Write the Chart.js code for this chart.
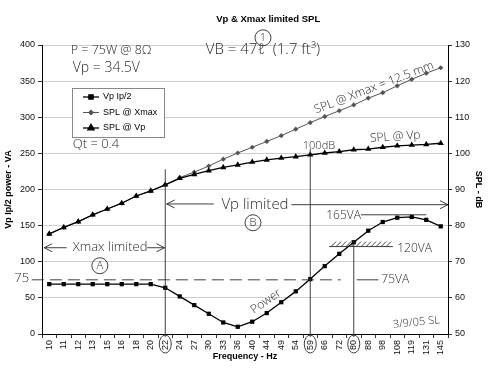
<!DOCTYPE html>
<html><head><meta charset="utf-8">
<script src="https://cdn.jsdelivr.net/npm/chart.js@4"></script>
<style>html,body{margin:0;padding:0;background:#fff}#wrap{width:488px;height:376px}</style>
</head><body><div id="wrap"><canvas id="c" width="488" height="376"></canvas></div>
<script>
// ---- data ----
const chartTitle = 'Vp & Xmax limited SPL';
const categories = ['10','11','12','13','15','16','18','20','22','24','27','30','33','36','40','44','49','54','59','66','72','80','88','98','108','119','131','145'];
const vpPower  = [69,69,69,69,69,69,69,69,64,52,40,28,16,10,17,29,44,59,76,94,111,127,143,155,161,162,158,149];
const splXmax  = [77.7,79.5,81.1,83.0,84.6,86.2,88.2,89.6,91.3,93.3,94.8,96.5,98.4,100.1,101.7,103.3,104.9,106.7,108.5,110.2,111.8,113.4,115.3,116.8,118.7,120.5,122.2,123.7];
const splVp    = [77.7,79.5,81.1,83.0,84.6,86.2,88.2,89.6,91.3,93.1,94.2,95.2,96.1,96.8,97.6,98.2,98.7,99.1,99.6,100.1,100.5,101.0,101.2,101.7,102.1,102.3,102.5,102.8];
const seriesNames = ['Vp Ip/2','SPL @ Xmax','SPL @ Vp'];
const leftTitle = 'Vp Ip/2 power - VA';
const rightTitle = 'SPL - dB';
const xTitle = 'Frequency - Hz';

// handwritten notes (category index, left-axis VA value)
const notes = [
  {t:'P = 75W @ 8Ω', i:1.48, v:392, size:12.5, align:'left'},
  {t:'Vp = 34.5V', i:1.62, v:368, size:14, align:'left'},
  {t:'VB = 47ℓ  (1.7 ft³)', i:10.8, v:393, size:15, align:'left'},
  {t:'Qt = 0.4', i:1.62, v:262, size:13, align:'left'},
  {t:'SPL @ Xmax = 12.5 mm', i:22.4, v:341, size:12, align:'center', rot:-21},
  {t:'SPL @ Vp', i:23.86, v:273, size:12, align:'center', rot:-4},
  {t:'100dB', i:18.6, v:260, size:11, align:'center'},
  {t:'Vp limited', i:14.19, v:179, size:15, align:'center'},
  {t:'Xmax limited', i:1.62, v:119.4, size:13, align:'left'},
  {t:'75', i:-1.9, v:77, size:13, align:'center'},
  {t:'75VA', i:22.9, v:75, size:12, align:'left'},
  {t:'165VA', i:19.1, v:164, size:12, align:'left'},
  {t:'120VA', i:24.0, v:118, size:12, align:'left'},
  {t:'Power', i:14.95, v:45, size:12, align:'center', rot:-35},
  {t:'3/9/05 SL', i:25.31, v:16, size:11, align:'center', rot:-6}
];
const circled = [
  {t:'1', i:14.74, v:410, r:8},
  {t:'B', i:14.05, v:154, r:8},
  {t:'A', i:3.49, v:94.5, r:8}
];
const arrows = [
  {i1:1.2, i2:-0.35, v:119.4},
  {i1:6.75, i2:7.95, v:119.4},
  {i1:11.35, i2:8.1, v:180},
  {i1:16.7, i2:27.5, v:179}
];
const vlines = [{i:8, v:228},{i:18, v:256},{i:21, v:130}];

const HAND = "'Open Sans','DejaVu Sans',sans-serif";
const GRID = '#c9c9e6';

const overlay = {
  id:'overlay',
  afterDatasetsDraw(chart){
    const ctx = chart.ctx, ca = chart.chartArea;
    const lx = ca.left + 30, ly = ca.top + 43, lw = 92, lh = 49;
    ctx.save();
    ctx.fillStyle = '#fff'; ctx.fillRect(lx, ly, lw, lh);
    ctx.strokeStyle = '#888'; ctx.lineWidth = 1; ctx.strokeRect(lx+0.5, ly+0.5, lw, lh);
    ctx.font = '9px Arial'; ctx.textBaseline = 'middle'; ctx.textAlign = 'left';
    [0,1,2].forEach((k, n) => {
      const ds = chart.data.datasets[k];
      const y = ly + 9 + n*15.5;
      ctx.strokeStyle = ds.borderColor; ctx.lineWidth = ds.borderWidth;
      ctx.beginPath(); ctx.moveTo(lx+11, y); ctx.lineTo(lx+27, y); ctx.stroke();
      ctx.fillStyle = ds.backgroundColor;
      Chart.helpers.drawPoint(ctx, {pointStyle: ds.pointStyle, radius: ds.pointRadius, rotation:0, borderWidth:1}, lx+19, y);
      ctx.fillStyle = '#000';
      ctx.fillText(ds.label, lx+31, y);
    });
    ctx.restore();
  },
  afterDraw(chart){
    const ctx = chart.ctx, xs = chart.scales.x, ys = chart.scales.yL;
    const X = i => xs.getPixelForValue(i), Y = v => ys.getPixelForValue(v);
    ctx.save();
    ctx.fillStyle = '#000'; ctx.font = 'bold 9.5px Arial';
    ctx.textAlign = 'center'; ctx.textBaseline = 'middle';
    ctx.fillText(chartTitle, X(15.1), 19);

    const ink = '#2a2a2a';
    ctx.strokeStyle = ink; ctx.fillStyle = ink; ctx.lineWidth = 0.9;
    vlines.forEach(l => {
      ctx.beginPath(); ctx.moveTo(X(l.i), Y(l.v)); ctx.lineTo(X(l.i), xs.top + 3); ctx.stroke();
      ctx.beginPath(); ctx.ellipse(X(l.i), xs.top + 10, 6, 9, 0, 0, Math.PI*2); ctx.stroke();
    });
    ctx.setLineDash([12,6]);
    ctx.beginPath(); ctx.moveTo(X(-1.2), Y(75)); ctx.lineTo(X(20.1), Y(75)); ctx.stroke();
    ctx.setLineDash([]);
    ctx.beginPath(); ctx.moveTo(X(21.2), Y(75)); ctx.lineTo(X(22.7), Y(75)); ctx.stroke();
    ctx.beginPath(); ctx.moveTo(X(21.5), Y(165)); ctx.lineTo(X(26), Y(165)); ctx.stroke();
    const hx1 = X(19.3), hx2 = X(23.7), hy = Y(121);
    ctx.beginPath(); ctx.moveTo(hx1, hy); ctx.lineTo(hx2, hy); ctx.stroke();
    for (let x = hx1 + 2; x < hx2 - 3; x += 5) {
      ctx.beginPath(); ctx.moveTo(x, hy); ctx.lineTo(x + 5, hy - 5); ctx.stroke();
    }
    arrows.forEach(a => {
      const x1 = X(a.i1), x2 = X(a.i2), y = Y(a.v);
      ctx.beginPath(); ctx.moveTo(x1, y); ctx.lineTo(x2, y); ctx.stroke();
      const d = x2 > x1 ? -1 : 1;
      ctx.beginPath(); ctx.moveTo(x2 + d*8, y - 4); ctx.lineTo(x2, y); ctx.lineTo(x2 + d*8, y + 4); ctx.stroke();
    });
    notes.forEach(n => {
      ctx.save();
      ctx.font = '300 ' + n.size + 'px ' + HAND;
      ctx.textAlign = n.align; ctx.textBaseline = 'middle';
      ctx.translate(X(n.i), Y(n.v));
      if (n.rot) ctx.rotate(n.rot * Math.PI / 180);
      ctx.fillText(n.t, 0, 0);
      ctx.restore();
    });
    circled.forEach(c => {
      const cx = X(c.i), cy = Y(c.v);
      ctx.beginPath(); ctx.arc(cx, cy, c.r, 0, Math.PI*2); ctx.stroke();
      ctx.font = '300 11px ' + HAND; ctx.textAlign = 'center'; ctx.textBaseline = 'middle';
      ctx.fillText(c.t, cx, cy + 0.5);
    });
    ctx.restore();
  }
};

new Chart(document.getElementById('c'), {
  type: 'line',
  data: {
    labels: categories,
    datasets: [
      {label: seriesNames[0], data: vpPower, yAxisID:'yL', borderColor:'#000', backgroundColor:'#000', borderWidth:1.3, pointStyle:'rect', pointRadius:3, pointBorderWidth:0, tension:0, order:1},
      {label: seriesNames[1], data: splXmax, yAxisID:'yR', borderColor:'#555', backgroundColor:'#555', borderWidth:1, pointStyle:'rectRot', pointRadius:2.6, pointBorderWidth:0, tension:0, order:3},
      {label: seriesNames[2], data: splVp, yAxisID:'yR', borderColor:'#000', backgroundColor:'#000', borderWidth:1.3, pointStyle:'triangle', pointRadius:3.6, pointBorderWidth:0, tension:0, order:2}
    ]
  },
  options: {
    responsive:false, animation:false, devicePixelRatio:1,
    layout:{padding:{top:45, left:0, right:0, bottom:0}},
    plugins:{legend:{display:false}, title:{display:false}, tooltip:{enabled:false}},
    scales:{
      x:{
        type:'category', offset:true,
        grid:{display:true, drawOnChartArea:false, drawTicks:true, tickLength:4, color:'#333', offset:true},
        border:{display:true, color:'#000', width:1},
        ticks:{autoSkip:false, minRotation:90, maxRotation:90, padding:2, color:'#111', font:{family:'Arial', size:9}},
        title:{display:true, text:xTitle, color:'#000', font:{family:'Arial', size:9, weight:'bold'}, padding:{top:0, bottom:14}},
        afterFit(s){ s.height = 42; }
      },
      yL:{
        position:'left', min:0, max:400,
        grid:{color:GRID, lineWidth:1, tickLength:4, tickColor:'#333'},
        border:{display:true, color:'#000', width:1},
        ticks:{stepSize:50, padding:3, color:'#111', font:{family:'Arial', size:9}},
        title:{display:true, text:leftTitle, color:'#000', font:{family:'Arial', size:9, weight:'bold'}, padding:{top:3, bottom:0}},
        afterFit(s){ s.width = 42; }
      },
      yR:{
        position:'right', min:50, max:130,
        grid:{drawOnChartArea:false, tickLength:4, color:'#333'},
        border:{display:true, color:'#000', width:1},
        ticks:{stepSize:10, padding:3, color:'#111', font:{family:'Arial', size:9}},
        title:{display:true, text:rightTitle, color:'#000', font:{family:'Arial', size:9, weight:'bold'}, padding:{top:4, bottom:0}},
        afterFit(s){ s.width = 40; }
      }
    }
  },
  plugins:[overlay]
});
</script>
</body></html>
